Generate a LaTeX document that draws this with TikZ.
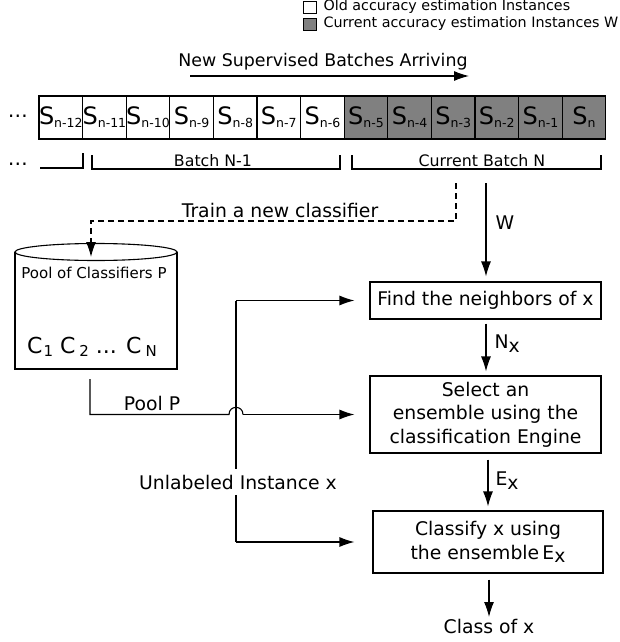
\documentclass[tikz,border=0pt]{standalone}
\usepackage{fontspec}
\setmainfont{DejaVu Sans}
\usetikzlibrary{arrows.meta,shapes.geometric}
\definecolor{cellgray}{RGB}{128,128,128}
\newcommand{\mainsz}{\fontsize{18.8}{23.5}\selectfont}
\newcommand{\cellS}[1]{{\fontsize{24}{24}\selectfont S}\raisebox{-3pt}{\fontsize{12.5}{12.5}\selectfont #1}}
\newcommand{\csub}[1]{\raisebox{-3pt}{\fontsize{15}{15}\selectfont #1}}
\begin{document}
\begin{tikzpicture}[x=1pt,y=-1pt,
  line width=1.1pt,
  arr/.style={-{Latex[length=15pt,width=10pt]}},
  cellbox/.style={draw,minimum width=43.6pt,minimum height=43pt,inner sep=0pt,outer sep=0pt},
  procbox/.style={draw,inner sep=0pt,align=center,font=\mainsz},
  lbl/.style={inner sep=0pt,font=\mainsz},
  legsq/.style={draw,line width=0.9pt,minimum width=13pt,minimum height=12pt,inner sep=0pt}
]
\useasboundingbox (0,0) rectangle (619,642);

% legend
\node[legsq] (lg1) at (310,7.5) {};
\node[legsq,fill=cellgray] (lg2) at (310,24.5) {};
\node[anchor=west,inner sep=0pt,font=\fontsize{14.3}{16}\selectfont] (lt1) at (323,7) {Old accuracy estimation Instances};
\node[anchor=west,inner sep=0pt,font=\fontsize{14.3}{16}\selectfont] (lt2) at (323,24) {Current accuracy estimation Instances W};

% arrival arrow
\node[inner sep=0pt,font=\fontsize{17.4}{20}\selectfont] (arr) at (323,62) {New Supervised Batches Arriving};
\coordinate (a0) at (190,76);
\coordinate (a1) at (469,76);
\draw[arr] (a0) -- (a1);

% cells
\node[lbl] (dots1) at (18,116) {\fontsize{20}{20}\selectfont\dots};
\foreach \i/\s in {0/n-12,1/n-11,2/n-10,3/n-9,4/n-8,5/n-7,6/n-6} {
  \node[cellbox] (c\i) at ({39+43.6*(\i+0.5)},117.5) {\cellS{\s}};
}
\foreach \i/\s in {7/n-5,8/n-4,9/n-3,10/n-2,11/n-1,12/n} {
  \node[cellbox,fill=cellgray] (c\i) at ({39+43.6*(\i+0.5)},117.5) {\cellS{\s}};
}

% brackets
\node[lbl] (dots2) at (18,164) {\fontsize{20}{20}\selectfont\dots};
\coordinate (b1a) at (40,168);
\coordinate (b1b) at (83,168);
\coordinate (b1c) at (83,153);
\draw (b1a) -- (b1b) -- (b1c);
\coordinate (b2a) at (92,155);
\coordinate (b2b) at (92,169);
\coordinate (b2c) at (340,169);
\coordinate (b2d) at (340,155);
\draw (b2a) -- (b2b) -- (b2c) -- (b2d);
\coordinate (b3a) at (352,155);
\coordinate (b3b) at (352,169);
\coordinate (b3c) at (601,169);
\coordinate (b3d) at (601,155);
\draw (b3a) -- (b3b) -- (b3c) -- (b3d);
\node[inner sep=0pt,font=\fontsize{15.8}{18}\selectfont] (bn1) at (213,161) {Batch N-1};
\node[inner sep=0pt,font=\fontsize{15.8}{18}\selectfont] (bn) at (482,161) {Current Batch N};

% cylinder (pool of classifiers)
\draw (15,252) -- (15,369) -- (177,369) -- (177,252);
\node[draw,ellipse,minimum width=162pt,minimum height=17pt,inner sep=0pt,fill=white] (pooltop) at (96,252) {};
\node[inner sep=0pt,font=\fontsize{15}{17}\selectfont] (pooltitle) at (94,273) {Pool of Classifiers P};
\node[inner sep=0pt] (cs) at (92,347) {\fontsize{22}{22}\selectfont C\kern1pt\csub{1} C\kern4pt\csub{2} ... C\kern4pt\csub{N}};

% dashed train connector
\coordinate (d0) at (456,183);
\coordinate (d1) at (456,221);
\coordinate (d2) at (91,221);
\coordinate (d3) at (91,257);
\draw[arr,dash pattern=on 6pt off 4pt] (d0) -- (d1) -- (d2) -- (d3);
\node[lbl,anchor=south] (train) at (280,218) {Train a new classifier};

% process boxes
\node[procbox,minimum width=231pt,minimum height=37pt] (box1) at (485.5,300.5) {Find the neighbors of x};
\node[procbox,minimum width=231pt,minimum height=77pt] (box2) at (485.5,414.5) {Select an\\ensemble using the\\classification Engine};
\node[procbox,minimum width=230pt,minimum height=62pt] (box3) at (488,542) {Classify x using\\the ensemble\,E\raisebox{-3pt}{x}};
\node[lbl,anchor=north] (cls) at (489,619) {Class of x};

% W arrow
\coordinate (w0) at (486,183);
\draw[arr,shorten >=5pt] (w0) -- (w0 |- box1.north);
\node[lbl,anchor=west] (wl) at (495,223) {W};

% Nx arrow
\draw[arr,shorten <=4pt,shorten >=4pt] (box1.south -| w0) -- (box2.north -| w0);
\node[lbl,anchor=west] (nxl) at (494,344) {N\raisebox{-4pt}{x}};

% Ex arrow
\draw[arr,shorten <=6pt,shorten >=4pt] (box2.south -| box3.north) -- (box3.north);
\node[lbl,anchor=west] (exl) at (495,481) {E\raisebox{-4pt}{x}};

% Class arrow
\draw[arr,shorten <=6pt,shorten >=2pt] (box3.south -| cls.north) -- (cls.north);

% unlabeled instance connector
\node[lbl,inner sep=6pt,inner ysep=5pt] (unl) at (238,482) {Unlabeled Instance x};
\coordinate (u0) at (236,300.5);
\coordinate (u1) at (236,542);
\draw[arr,shorten >=15pt] (u0) -- (box1.west);
\draw (u0) -- (unl.north -| u0);
\draw (unl.south -| u0) -- (u1);
\draw[arr,shorten >=18pt] (u1) -- (box3.west);

% pool P connector with hop
\coordinate (p0) at (90,379);
\coordinate (p1) at (90,414.5);
\coordinate (h0) at (229,414.5);
\coordinate (h1) at (243,414.5);
\draw (p0) -- (p1) -- (h0) .. controls (229,405) and (243,405) .. (h1);
\draw[arr,shorten >=15pt] (h1) -- (box2.west);
\node[lbl,anchor=south] (poolp) at (152,411) {Pool P};
\end{tikzpicture}
\end{document}
